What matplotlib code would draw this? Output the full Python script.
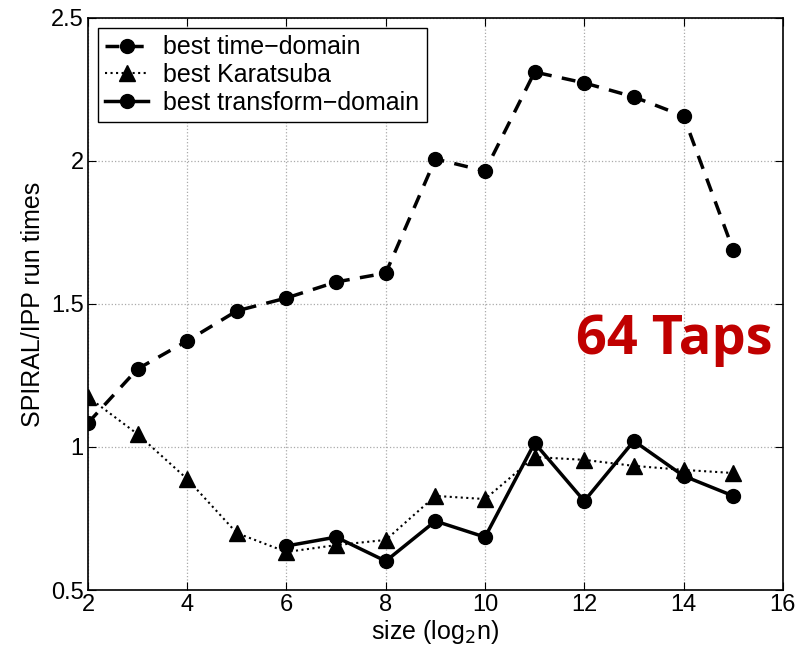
#!/usr/bin/env python
# SPIRAL vs IPP run time ratio, 64 taps

import matplotlib
matplotlib.use("Agg")
from matplotlib import pyplot as plt

plt.rcParams['font.family'] = ['Liberation Sans', 'DejaVu Sans']

sizes_time = [2, 3, 4, 5, 6, 7, 8, 9, 10, 11, 12, 13, 14, 15]
time_domain = [1.084, 1.273, 1.371, 1.476, 1.521, 1.577, 1.608,
               2.007, 1.965, 2.311, 2.273, 2.224, 2.157, 1.689]

sizes_kara = [2, 3, 4, 5, 6, 7, 8, 9, 10, 11, 12, 13, 14, 15]
karatsuba = [1.175, 1.045, 0.888, 0.699, 0.633, 0.657, 0.675,
             0.829, 0.818, 0.965, 0.955, 0.934, 0.920, 0.909]

sizes_trans = [6, 7, 8, 9, 10, 11, 12, 13, 14, 15]
transform = [0.654, 0.685, 0.601, 0.741, 0.685, 1.014, 0.811, 1.021, 0.899, 0.829]

fig = plt.figure(figsize=(8.07, 6.56), dpi=100)
ax = fig.add_axes([0.109, 0.1006, 0.861, 0.872])

ax.plot(sizes_time, time_domain, 'k--', marker='o', markersize=10, linewidth=2.5,
        dashes=(4, 3), label='best time\u2212domain')
ax.plot(sizes_kara, karatsuba, 'k:', marker='^', markersize=11, linewidth=1.5,
        label='best Karatsuba')
ax.plot(sizes_trans, transform, 'k-', marker='o', markersize=10, linewidth=2.5,
        label='best transform\u2212domain')

ax.set_xlim(2, 16)
ax.set_ylim(0.5, 2.5)
ax.set_xticks(range(2, 17, 2))
ax.set_yticks([0.5, 1, 1.5, 2, 2.5])
ax.set_yticklabels(['0.5', '1', '1.5', '2', '2.5'])
ax.grid(True, linestyle=':', color='#aaaaaa', linewidth=0.9)
ax.tick_params(direction='in', top=True, right=True, labelsize=17, length=6, pad=3)
for s in ax.spines.values():
    s.set_linewidth(1.2)

ax.set_xlabel('size (log$_2$n)', fontsize=18, labelpad=1)
ax.set_ylabel('SPIRAL/IPP run times', fontsize=18, labelpad=4)

leg = ax.legend(loc='upper left', fontsize=18, fancybox=False, framealpha=1,
                edgecolor='black', handlelength=1.7, borderaxespad=0.4,
                labelspacing=0.15, borderpad=0.3, handletextpad=0.6)
leg.get_frame().set_linewidth(1.0)

ax.text(0.985, 0.437, '64 Taps', transform=ax.transAxes, ha='right', va='center',
        fontsize=39, fontweight='bold', color='#c00000', family=['Open Sans', 'DejaVu Sans'])

fig.savefig('out.png', dpi=100)
